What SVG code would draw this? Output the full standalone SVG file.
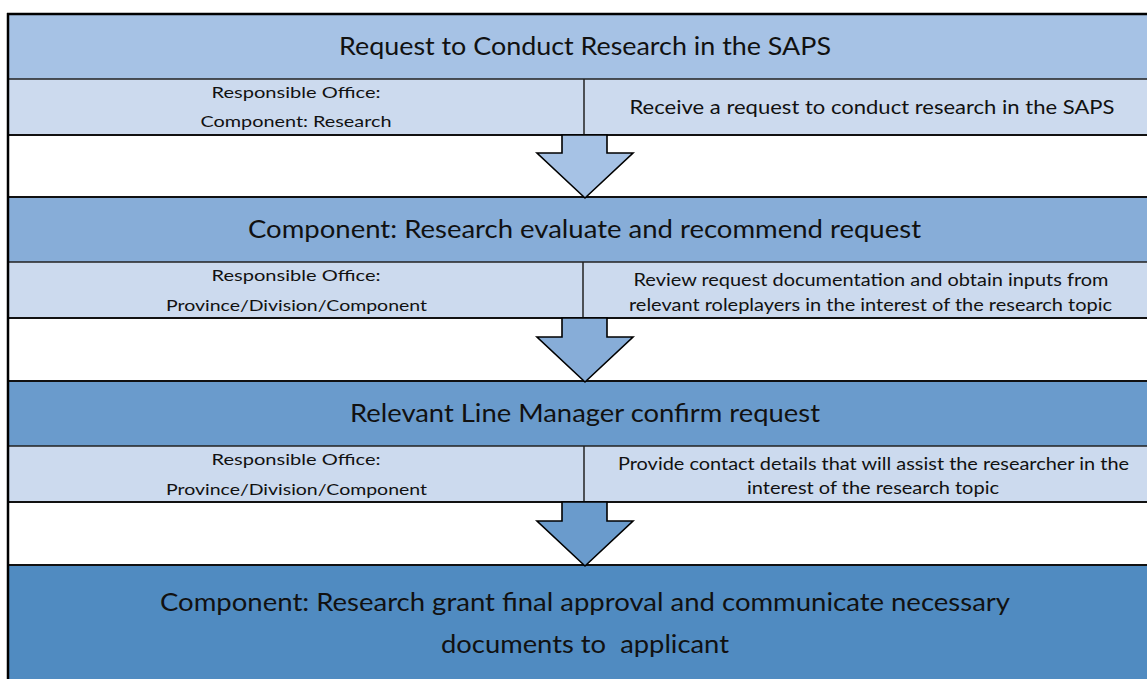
<svg xmlns="http://www.w3.org/2000/svg" width="1147" height="679" viewBox="0 0 1147 679">
<style>
.bg{fill:#ffffff}
.h1{fill:#a6c2e5}
.h2{fill:#87add8}
.h3{fill:#6a9bcc}
.h4{fill:#508bc1}
.sub{fill:#ccdaee}
.line{stroke:#111;stroke-width:2;fill:none}
.thin{stroke:#222;stroke-width:1.5;fill:none}
.arrow{stroke:#000;stroke-width:1.6;stroke-linejoin:miter}
text{font-family:Lato,"Open Sans","Liberation Sans",sans-serif;fill:#111;text-anchor:middle}
.ht{font-size:25px}
.lt{font-size:16px}
.rt{font-size:17px}
.rt1{font-size:19px}
</style>
<rect x="0" y="0" width="1147" height="679" class="bg"/>

<g id="step1">
  <rect x="8" y="14" width="1139" height="65" class="h1"/>
  <rect x="8" y="79" width="1139" height="56" class="sub"/>
  <line x1="8" y1="79" x2="1147" y2="79" class="thin"/>
  <line x1="8" y1="135" x2="1147" y2="135" class="line"/>
  <line x1="584" y1="79" x2="584" y2="135" class="thin"/>
  <text x="585" y="54.5" class="ht" textLength="492" lengthAdjust="spacingAndGlyphs">Request to Conduct Research in the SAPS</text>
  <text x="296" y="98" class="lt" textLength="169" lengthAdjust="spacingAndGlyphs">Responsible Office:</text>
  <text x="296" y="127" class="lt" textLength="191" lengthAdjust="spacingAndGlyphs">Component: Research</text>
  <text x="872" y="114" class="rt1" textLength="485" lengthAdjust="spacingAndGlyphs">Receive a request to conduct research in the SAPS</text>
</g>

<g id="step2">
  <rect x="8" y="197" width="1139" height="65" class="h2"/>
  <rect x="8" y="262" width="1139" height="56" class="sub"/>
  <line x1="8" y1="197" x2="1147" y2="197" class="line"/>
  <line x1="8" y1="262" x2="1147" y2="262" class="thin"/>
  <line x1="8" y1="318" x2="1147" y2="318" class="line"/>
  <line x1="583" y1="262" x2="583" y2="318" class="thin"/>
  <text x="584.5" y="238" class="ht" textLength="673" lengthAdjust="spacingAndGlyphs">Component: Research evaluate and recommend request</text>
  <text x="296" y="281" class="lt" textLength="169" lengthAdjust="spacingAndGlyphs">Responsible Office:</text>
  <text x="296.5" y="311" class="lt" textLength="261" lengthAdjust="spacingAndGlyphs">Province/Division/Component</text>
  <text x="871" y="286" class="rt" textLength="475" lengthAdjust="spacingAndGlyphs">Review request documentation and obtain inputs from</text>
  <text x="870.5" y="311" class="rt" textLength="483" lengthAdjust="spacingAndGlyphs">relevant roleplayers in the interest of the research topic</text>
</g>

<g id="step3">
  <rect x="8" y="381" width="1139" height="65" class="h3"/>
  <rect x="8" y="446" width="1139" height="56" class="sub"/>
  <line x1="8" y1="381" x2="1147" y2="381" class="line"/>
  <line x1="8" y1="446" x2="1147" y2="446" class="thin"/>
  <line x1="8" y1="502" x2="1147" y2="502" class="line"/>
  <line x1="584" y1="446" x2="584" y2="502" class="thin"/>
  <text x="585" y="421.5" class="ht" textLength="470" lengthAdjust="spacingAndGlyphs">Relevant Line Manager confirm request</text>
  <text x="296" y="465" class="lt" textLength="169" lengthAdjust="spacingAndGlyphs">Responsible Office:</text>
  <text x="296.5" y="495" class="lt" textLength="261" lengthAdjust="spacingAndGlyphs">Province/Division/Component</text>
  <text x="873.5" y="470" class="rt" textLength="511" lengthAdjust="spacingAndGlyphs">Provide contact details that will assist the researcher in the</text>
  <text x="873" y="494" class="rt" textLength="252" lengthAdjust="spacingAndGlyphs">interest of the research topic</text>
</g>

<g id="step4">
  <rect x="8" y="565" width="1139" height="114" class="h4"/>
  <line x1="8" y1="565" x2="1147" y2="565" class="line"/>
  <text x="585" y="611" class="ht" textLength="850" lengthAdjust="spacingAndGlyphs">Component: Research grant final approval and communicate necessary</text>
  <text x="585" y="653" class="ht" style="white-space:pre" textLength="288" lengthAdjust="spacingAndGlyphs">documents to  applicant</text>
</g>

<g id="frame">
  <line x1="7" y1="14" x2="1147" y2="14" stroke="#000" stroke-width="2.5"/>
  <line x1="8" y1="13" x2="8" y2="679" stroke="#000" stroke-width="2.5"/>
</g>

<g id="connectors">
  <polygon class="arrow h1" points="562,135 607,135 607,153 633,153 585,198 537,153 562,153"/>
  <polygon class="arrow h2" points="562,318 607,318 607,337 633,337 585,382 537,337 562,337"/>
  <polygon class="arrow h3" points="562,502 607,502 607,521 633,521 585,566 537,521 562,521"/>
</g>
</svg>
